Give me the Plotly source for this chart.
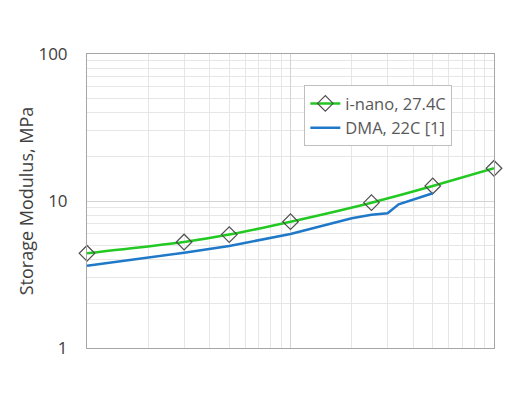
import plotly.graph_objects as go

# i-nano, 27.4C (markers)
inano_x = [1, 3, 5, 10, 25, 50, 100]
inano_y = [4.41, 5.26, 5.91, 7.23, 9.74, 12.65, 16.7]

# DMA, 22C [1]
dma_x = [1, 2, 3, 5, 10, 20, 25, 30, 34, 50]
dma_y = [3.62, 4.11, 4.45, 4.94, 5.97, 7.63, 8.05, 8.25, 9.5, 11.3]

y_tickvals = [1, 10, 100]
y_ticktext = ["1", "10", "100"]

FONT = "Open Sans"
TXT = "#404040"
MINOR = [2, 3, 4, 5, 6, 7, 8, 9, 20, 30, 40, 50, 60, 70, 80, 90]

fig = go.Figure()
fig.add_trace(go.Scatter(
    x=inano_x, y=inano_y, mode="lines+markers", name="i-nano, 27.4C",
    line=dict(color="#22C922", width=2.5, shape="spline", smoothing=0.6),
    marker=dict(symbol="diamond-open", size=12, color="#505050", line=dict(width=1.2, color="#505050")),
    cliponaxis=False,
))
fig.add_trace(go.Scatter(
    x=dma_x, y=dma_y, mode="lines", name="DMA, 22C [1]",
    line=dict(color="#1F78C8", width=2.5),
))

fig.update_layout(
    width=527, height=396,
    margin=dict(l=79, r=41, t=46, b=56, autoexpand=False),
    paper_bgcolor="white", plot_bgcolor="white",
    font=dict(family=FONT, color=TXT),
    showlegend=True,
    legend=dict(
        x=0.534, y=0.894, xanchor="left", yanchor="top",
        bgcolor="white", bordercolor="#BFBFBF", borderwidth=1,
        font=dict(size=16.5, color="#595959", family=FONT),
        itemwidth=30, tracegroupgap=2,
    ),
)
fig.update_xaxes(
    type="log", range=[0, 2], automargin=False,
    showticklabels=False, ticks="",
    showgrid=True, gridcolor="#D4D4D4", gridwidth=1,
    tickvals=[1, 10, 100],
    minor=dict(showgrid=True, gridcolor="#E6E6E6", gridwidth=1, tickvals=MINOR),
    showline=True, linecolor="#A6A6A6", linewidth=1, mirror=True,
    zeroline=False,
)
fig.update_yaxes(
    type="log", range=[0, 2], automargin=False,
    tickvals=y_tickvals, ticktext=y_ticktext,
    tickfont=dict(size=17, color=TXT, family=FONT),
    ticks="", ticklen=0, ticklabelstandoff=15,
    showgrid=True, gridcolor="#D4D4D4", gridwidth=1,
    minor=dict(showgrid=True, gridcolor="#E6E6E6", gridwidth=1, tickvals=MINOR),
    showline=True, linecolor="#A6A6A6", linewidth=1, mirror=True,
    title=dict(text="Storage Modulus, MPa", font=dict(size=18, color=TXT, family=FONT), standoff=0),
    zeroline=False,
)

fig.write_html("out.html")
